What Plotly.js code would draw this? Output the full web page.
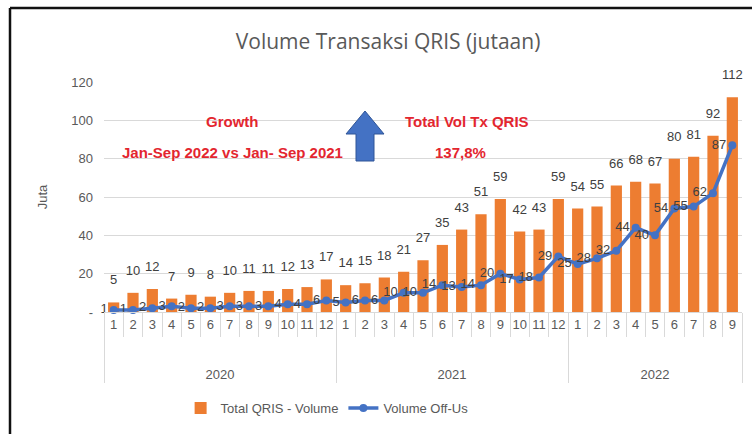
<!DOCTYPE html>
<html>
<head>
<meta charset="utf-8">
<script src="https://cdn.plot.ly/plotly-3.0.1.min.js"></script>
<style>html,body{margin:0;padding:0;background:#fff;}#chart{width:752px;height:434px;}</style>
</head>
<body>
<div id="chart"></div>
<script>
// ---- data ----
const years = ['2020', '2021', '2022'];
const monthsPerYear = [12, 12, 9];
const totalQrisVolume = [5, 10, 12, 7, 9, 8, 10, 11, 11, 12, 13, 17,
                         14, 15, 18, 21, 27, 35, 43, 51, 59, 42, 43, 59,
                         54, 55, 66, 68, 67, 80, 81, 92, 112];
const volumeOffUs = [1, 1, 2, 3, 2, 2, 3, 3, 3, 4, 4, 6,
                     5, 6, 6, 10, 10, 14, 13, 14, 20, 17, 18, 29,
                     25, 28, 32, 44, 40, 54, 55, 62, 87];
const yTickVals = [0, 20, 40, 60, 80, 100, 120];
const yTickText = ['-', '20', '40', '60', '80', '100', '120'];

// ---- build category arrays (year labels drawn two lines lower) ----
const xYear = [], xMonth = [];
years.forEach((y, i) => { for (let m = 1; m <= monthsPerYear[i]; m++) { xYear.push('<br><br>' + y); xMonth.push(String(m)); } });
const nCat = xMonth.length;

// ---- pixel helpers for decorations ----
const L = 104, R = 10, T = 82, B = 122, W = 752, H = 434;
const pw = W - L - R, ph = H - T - B;
const px = x => (x - L) / pw;
const py = y => (H - B - y) / ph;

const FONT = 'Liberation Sans, Arial, sans-serif';
const labelFont = {family: FONT, size: 13, color: '#404040'};
const axisFont = {family: FONT, size: 13, color: '#595959'};
const red = '#E3262F';
const redFont = {family: FONT, size: 15, color: red};

const traces = [
  {
    type: 'bar', name: 'Total QRIS - Volume',
    x: [xYear, xMonth], y: totalQrisVolume,
    marker: {color: '#ED7D31'}, hoverinfo: 'skip'
  },
  {
    type: 'scatter', mode: 'lines+markers+text', name: 'Volume Off-Us',
    x: [xYear, xMonth], y: volumeOffUs,
    line: {color: '#4472C4', width: 3.5},
    marker: {color: '#4472C4', size: 8},
    text: volumeOffUs.map(String), textposition: 'middle left',
    textfont: labelFont, cliponaxis: false, hoverinfo: 'skip'
  },
  {
    // data labels of the bars
    type: 'scatter', mode: 'markers+text', showlegend: false,
    x: [xYear, xMonth], y: totalQrisVolume,
    marker: {size: 22, opacity: 0},
    text: totalQrisVolume.map(String), textposition: 'top center',
    textfont: labelFont, cliponaxis: false, hoverinfo: 'skip'
  }
];

const arrow = 'M ' + px(365) + ' ' + py(111) + ' L ' + px(384) + ' ' + py(134) + ' L ' + px(374) + ' ' + py(134) +
  ' L ' + px(374) + ' ' + py(161) + ' L ' + px(356) + ' ' + py(161) + ' L ' + px(356) + ' ' + py(134) +
  ' L ' + px(346) + ' ' + py(134) + ' Z';

const layout = {
  width: W, height: H,
  margin: {l: L, r: R, t: T, b: B},
  paper_bgcolor: '#ffffff', plot_bgcolor: '#ffffff',
  showlegend: true,
  title: {text: 'Volume Transaksi QRIS (jutaan)', x: 0.516, xanchor: 'center', y: 0.905, yanchor: 'middle',
          font: {family: 'Open Sans, Noto Sans, sans-serif', size: 21, color: '#595959'}},
  bargap: 0.42,
  xaxis: {
    type: 'multicategory', tickfont: axisFont, tickangle: 0,
    range: [-0.5, nCat - 0.5], autorange: false,
    showgrid: false, ticks: 'outside', ticklen: 24, tickcolor: '#d9d9d9', tickwidth: 1,
    showdividers: true, dividercolor: '#d9d9d9', dividerwidth: 1,
    showline: true, linecolor: '#d9d9d9', linewidth: 1, fixedrange: true
  },
  yaxis: {
    range: [0, 120], tickvals: yTickVals, ticktext: yTickText, tickfont: axisFont,
    showgrid: true, gridcolor: '#d9d9d9', gridwidth: 1, zeroline: false,
    ticks: '', ticklabelstandoff: 10,
    title: {text: 'Juta', font: axisFont, standoff: 20}, fixedrange: true
  },
  legend: {
    orientation: 'h', xref: 'container', yref: 'container', x: 0.435, xanchor: 'center', y: 0.06, yanchor: 'middle',
    font: {family: FONT, size: 13, color: '#595959'},
    itemwidth: 30, traceorder: 'normal'
  },
  annotations: [
    {xref: 'paper', yref: 'paper', x: px(232), y: py(121), xanchor: 'center', yanchor: 'middle', text: '<b>Growth</b>', showarrow: false, font: redFont},
    {xref: 'paper', yref: 'paper', x: px(232), y: py(152), xanchor: 'center', yanchor: 'middle', text: '<b>Jan-Sep 2022 vs Jan- Sep 2021</b>', showarrow: false, font: redFont},
    {xref: 'paper', yref: 'paper', x: px(467), y: py(121), xanchor: 'center', yanchor: 'middle', text: '<b>Total Vol Tx QRIS</b>', showarrow: false, font: redFont},
    {xref: 'paper', yref: 'paper', x: px(460), y: py(152), xanchor: 'center', yanchor: 'middle', text: '<b>137,8%</b>', showarrow: false, font: redFont}
  ],
  shapes: [
    {type: 'path', xref: 'paper', yref: 'paper', path: arrow, fillcolor: '#4472C4', line: {color: '#2F5597', width: 1}},
    {type: 'line', xref: 'paper', yref: 'paper', x0: px(10), x1: px(752), y0: py(8), y1: py(8), line: {color: '#111', width: 2.5}},
    {type: 'line', xref: 'paper', yref: 'paper', x0: px(10), x1: px(10), y0: py(8), y1: py(434), line: {color: '#111', width: 2.5}}
  ]
};

Plotly.newPlot('chart', traces, layout, {displayModeBar: false, staticPlot: true});
</script>
</body>
</html>
